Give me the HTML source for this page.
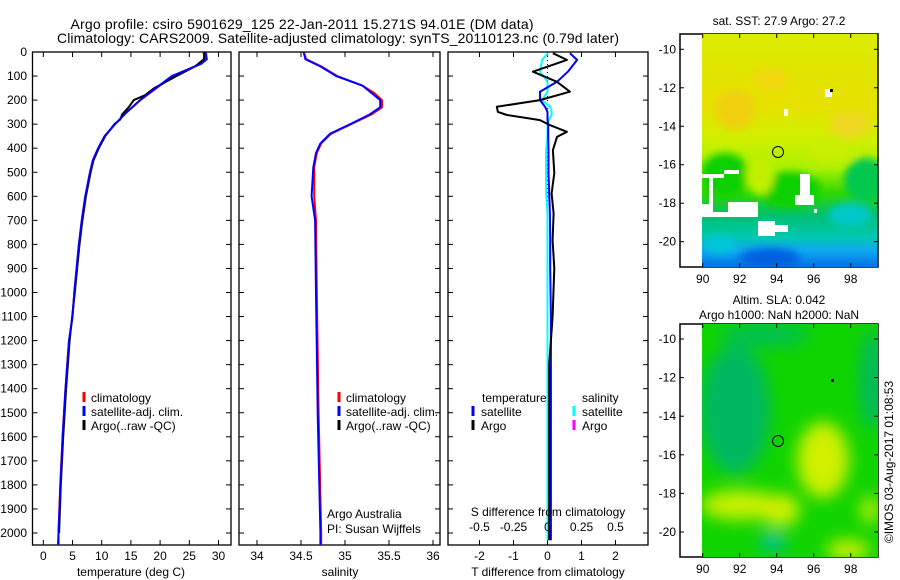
<!DOCTYPE html>
<html><head><meta charset="utf-8"><style>
html,body{margin:0;padding:0;background:#fff;}
svg{display:block;font-family:"Liberation Sans",sans-serif;}
text{fill:#000;}
</style></head><body>
<svg id="fig" width="900" height="580" viewBox="0 0 900 580">
<defs>
 <clipPath id="c1"><rect x="32.5" y="52" width="198.5" height="493"/></clipPath>
 <clipPath id="c2"><rect x="239" y="52" width="201" height="493"/></clipPath>
 <clipPath id="c3"><rect x="448" y="52" width="200" height="493"/></clipPath>
 <clipPath id="cm1"><rect x="702" y="34" width="175" height="233"/></clipPath>
 <clipPath id="cm2"><rect x="702" y="324" width="176" height="233"/></clipPath>
 <filter id="bl" x="-20%" y="-20%" width="140%" height="140%"><feGaussianBlur stdDeviation="4"/></filter>
 <filter id="bl2" x="-20%" y="-20%" width="140%" height="140%"><feGaussianBlur stdDeviation="8"/></filter>
 <linearGradient id="sst" x1="0" y1="0" x2="0" y2="1">
  <stop offset="0" stop-color="#d8ec00"/><stop offset="0.3" stop-color="#e8e000"/>
  <stop offset="0.45" stop-color="#d0f000"/><stop offset="0.58" stop-color="#a8f000"/>
  <stop offset="0.68" stop-color="#30d800"/><stop offset="0.78" stop-color="#00c070"/>
  <stop offset="0.87" stop-color="#00c8b0"/><stop offset="0.93" stop-color="#10a8f0"/>
  <stop offset="1" stop-color="#0070e8"/>
 </linearGradient>
</defs>
<text x="302" y="29" font-size="14" text-anchor="middle" textLength="463">Argo profile: csiro 5901629_125 22-Jan-2011 15.271S 94.01E (DM data)</text>
<text x="338" y="43" font-size="14" text-anchor="middle" textLength="562">Climatology: CARS2009. Satellite-adjusted climatology: synTS_20110123.nc (0.79d later)</text>
<g id="p1"></g>
<g id="p2"></g>
<g id="p3"></g>

<g>
 <rect x="680" y="34" width="198" height="233" fill="#fff" stroke="#000" stroke-width="1.5"/>
 <g clip-path="url(#cm1)">
  <rect x="702" y="34" width="175" height="233" fill="url(#sst)"/>
  <g filter="url(#bl)">
   <ellipse cx="725" cy="175" rx="25" ry="22" fill="#10d000"/>
   <ellipse cx="866" cy="180" rx="22" ry="22" fill="#00c850"/>
   <ellipse cx="735" cy="110" rx="20" ry="20" fill="#f0d010"/>
   <ellipse cx="770" cy="80" rx="18" ry="12" fill="#f0d810"/>
   <ellipse cx="850" cy="125" rx="20" ry="14" fill="#eed820"/>
   <ellipse cx="790" cy="190" rx="30" ry="18" fill="#10d000"/>
   <ellipse cx="760" cy="175" rx="14" ry="20" fill="#c0f000"/>
   <ellipse cx="830" cy="150" rx="25" ry="12" fill="#c8f000"/>
   <ellipse cx="850" cy="215" rx="22" ry="12" fill="#00c8c8"/>
   <ellipse cx="770" cy="258" rx="30" ry="10" fill="#0060e0"/>
   <ellipse cx="720" cy="245" rx="15" ry="8" fill="#00c8d8"/>
  </g>
  <g fill="#fff">
   <rect x="702" y="174" width="22" height="4"/><rect x="724" y="170" width="15" height="4"/>
   <rect x="709" y="178" width="4" height="39"/><rect x="702" y="204" width="7" height="13"/>
   <rect x="728" y="202" width="30" height="15"/><rect x="713" y="212" width="15" height="5"/>
   <rect x="758" y="221" width="17" height="15"/><rect x="758" y="225" width="30" height="7"/>
   <rect x="800" y="174" width="10" height="30"/><rect x="795" y="195" width="19" height="10"/>
   <rect x="814" y="209" width="3" height="4"/><rect x="784" y="109" width="4" height="7"/>
   <rect x="825" y="89" width="7" height="8"/>
  </g>
  <rect x="830" y="89" width="3" height="3" fill="#000"/>
 </g>
 <circle cx="778" cy="152" r="5.5" fill="none" stroke="#000"/>
</g>
<text x="779" y="25" font-size="12" text-anchor="middle">sat. SST: 27.9 Argo: 27.2</text>

<g>
 <rect x="680" y="324" width="198" height="233" fill="#fff" stroke="#000" stroke-width="1.5"/>
 <g clip-path="url(#cm2)">
  <rect x="702" y="324" width="176" height="233" fill="#10d400"/>
  <g filter="url(#bl2)">
   <ellipse cx="735" cy="410" rx="35" ry="65" fill="#00b860"/>
   <ellipse cx="765" cy="335" rx="45" ry="12" fill="#00c050"/>
   <ellipse cx="872" cy="380" rx="12" ry="50" fill="#00b860"/>
   <ellipse cx="823" cy="460" rx="26" ry="38" fill="#d0f000"/>
   <ellipse cx="740" cy="505" rx="40" ry="15" fill="#c8f000"/>
   <ellipse cx="780" cy="510" rx="20" ry="16" fill="#d0f000"/>
   <ellipse cx="773" cy="542" rx="14" ry="9" fill="#00c0a0"/>
   <ellipse cx="848" cy="550" rx="22" ry="10" fill="#d0f000"/>
   <ellipse cx="870" cy="510" rx="10" ry="14" fill="#b0ec00"/>
  </g>
  <rect x="831" y="379" width="3" height="3" fill="#000"/>
 </g>
 <circle cx="778" cy="441" r="5.5" fill="none" stroke="#000"/>
</g>
<text x="779" y="304" font-size="12" text-anchor="middle">Altim. SLA: 0.042</text>
<text x="779" y="319" font-size="12" text-anchor="middle">Argo h1000: NaN h2000: NaN</text>
<text transform="translate(893,462) rotate(-90)" font-size="12" text-anchor="middle">©IMOS 03-Aug-2017 01:08:53</text>
<g id="maxes"></g>

<script>
const depthTicks = [0,100,200,300,400,500,600,700,800,900,1000,1100,1200,1300,1400,1500,1600,1700,1800,1900,2000];
const tempTicks = [0,5,10,15,20,25,30];
const salTicks = [34,34.5,35,35.5,36];
const tdiffTicks = [-2,-1,0,1,2];
const sdiffTicks = [-0.5,-0.25,0,0.25,0.5];
const sdiffLabels = ["-0.5","-0.25","0","0.25","0.5"];
const lonTicks = [90,92,94,96,98];
const latTicks = [-10,-12,-14,-16,-18,-20];

const climDepth = [0,30,50,100,150,200,250,300,350,400,450,500,600,700,800,900,1000,1100,1200,1400,1600,1800,2000,2050];
const climTemp  = [27.4,27.7,26.8,22.2,19.4,16.6,14.3,12.3,10.5,9.4,8.5,8.0,7.2,6.6,6.1,5.7,5.3,5.0,4.4,3.8,3.3,2.9,2.6,2.5];
const satTemp   = [27.8,28.0,27.0,22.0,19.3,16.6,14.3,12.3,10.5,9.4,8.5,8.0,7.2,6.6,6.1,5.7,5.3,5.0,4.4,3.8,3.3,2.95,2.6,2.6];
const argoDepth = [0,30,60,100,150,180,200,230,260,280,300,350,400,450,500,600,700,800,1000,1200,1400,1600,1800,2000];
const argoTemp  = [27.6,27.5,26.0,22.8,19.0,17.4,15.5,14.6,13.5,13.2,12.2,10.6,9.5,8.6,8.1,7.3,6.7,6.2,5.4,4.5,3.9,3.4,3.0,2.7];

const salDepth = [0,30,60,100,140,170,200,230,260,300,340,380,420,480,600,700,1000,1500,2000,2050];
const climSal  = [34.53,34.56,34.73,34.91,35.2,35.33,35.42,35.42,35.3,35.07,34.84,34.73,34.68,34.65,34.65,34.67,34.68,34.7,34.73,34.73];
const satSal   = [34.53,34.55,34.72,34.9,35.2,35.3,35.4,35.4,35.28,35.06,34.83,34.72,34.67,34.64,34.62,34.66,34.67,34.69,34.72,34.72];

const dDepth = [5,33,82,124,165,200,228,249,262,283,304,332,353,408,504,588,671,783,900,1100,1300,1600,2000,2030];
const argoTdiff = [0.16,0.57,-0.43,0.28,0.66,-0.22,-1.49,-1.46,-1.19,-0.22,0.07,0.57,0.28,0.16,0.2,0.12,0.18,0.15,0.2,0.15,0.05,0.05,0.05,0.05];
const satTdiff  = [0.66,0.87,0.6,0.28,-0.22,-0.22,-0.07,0,0,0,0.02,0.02,0.02,0.03,0.03,0.05,0.07,0.08,0.08,0.1,0.1,0.1,0.1,0.1];
const satSdiff  = [0.004,-0.04,-0.055,0,0,-0.04,0.02,0.03,0.03,0.01,0,0,0,-0.01,-0.01,-0.01,0,0,0,0,0,0,0,0];

const NS = "http://www.w3.org/2000/svg";
const yD = d => 52 + d * 0.2405;
const xT = t => 43.3 + t * 5.84;
const xS = s => 257 + (s - 34) * 88;
const xTd = t => 547.5 + t * 34;
const xSd = s => 547.5 + s * 136;
const xLon = l => 702.7 + (l - 90) * 18.5;
const yLat1 = l => 49.3 + (-10 - l) * 19.24;
const yLat2 = l => 339 + (-10 - l) * 19.3;

function mk(tag, attrs, parent, txt) {
  const e = document.createElementNS(NS, tag);
  for (const k in attrs) e.setAttribute(k, attrs[k]);
  if (txt !== undefined) e.textContent = txt;
  parent.appendChild(e);
  return e;
}
function line(parent, xs, ys, color, w, name, dash) {
  let d = "";
  for (let i = 0; i < xs.length; i++) d += (i ? "L" : "M") + xs[i].toFixed(1) + " " + ys[i].toFixed(1);
  const p = mk("path", {d: d, fill: "none", stroke: color, "stroke-width": w, "stroke-linejoin": "round"}, parent);
  if (dash) p.setAttribute("stroke-dasharray", dash);
  
  
  return p;
}
function frame(g, x0, x1, withLabels) {
  mk("rect", {x: x0, y: 52, width: x1 - x0, height: 493, fill: "none", stroke: "#000", "stroke-width": 1.3}, g);
  depthTicks.forEach(d => {
    const y = yD(d);
    mk("line", {x1: x0, x2: x0 + 5, y1: y, y2: y, stroke: "#000"}, g);
    mk("line", {x1: x1, x2: x1 - 5, y1: y, y2: y, stroke: "#000"}, g);
    if (withLabels) {
      const t = mk("text", {x: 27, y: y + 4, "font-size": 12, "text-anchor": "end"}, g, String(d));
      
      
    }
  });
}
function xticks(g, ticks, fx, labels, ylab) {
  ticks.forEach((v, i) => {
    const x = fx(v);
    mk("line", {x1: x, x2: x, y1: 52, y2: 57, stroke: "#000"}, g);
    mk("line", {x1: x, x2: x, y1: 545, y2: 540, stroke: "#000"}, g);
    const t = mk("text", {x: x, y: ylab, "font-size": 12, "text-anchor": "middle"}, g, labels ? labels[i] : String(v));
    
    
  });
}
function legend(g, x, items) {
  items.forEach((it, i) => {
    const y = 402 + i * 14;
    mk("line", {x1: x, x2: x, y1: y - 10, y2: y, stroke: it[0], "stroke-width": 3}, g);
    const t = mk("text", {x: x + 7, y: y, "font-size": 12}, g, it[1]);
    
    
  });
}

const g1 = document.getElementById("p1");
frame(g1, 32.5, 231, true);
xticks(g1, tempTicks, xT, null, 560);
const c1 = mk("g", {"clip-path": "url(#c1)"}, g1);
line(c1, climTemp.map(xT), climDepth.map(yD), "#f00", 2, "temp-climatology-line");
line(c1, argoTemp.map(xT), argoDepth.map(yD), "#000", 2, "temp-argo-line");
line(c1, satTemp.map(xT), climDepth.map(yD), "#00f", 2, "temp-satellite-line");
legend(g1, 84, [["#f00","climatology"],["#00f","satellite-adj. clim."],["#000","Argo(..raw -QC)"]]);
mk("text", {x: 131, y: 576, "font-size": 12, "text-anchor": "middle"}, g1, "temperature (deg C)");

const g2 = document.getElementById("p2");
frame(g2, 239, 440, false);
xticks(g2, salTicks, xS, null, 560);
const c2 = mk("g", {"clip-path": "url(#c2)"}, g2);
line(c2, climSal.map(xS), salDepth.map(yD), "#f00", 2, "sal-climatology-line");
line(c2, satSal.map(xS), salDepth.map(yD), "#00f", 2, "sal-satellite-line");
legend(g2, 339, [["#f00","climatology"],["#00f","satellite-adj. clim."],["#000","Argo(..raw -QC)"]]);
mk("text", {x: 327, y: 518, "font-size": 12}, g2, "Argo Australia");
mk("text", {x: 327, y: 533, "font-size": 12}, g2, "PI: Susan Wijffels");
mk("text", {x: 340, y: 576, "font-size": 12, "text-anchor": "middle"}, g2, "salinity");

const g3 = document.getElementById("p3");
frame(g3, 448, 648, false);
xticks(g3, tdiffTicks, xTd, null, 560);
const c3 = mk("g", {"clip-path": "url(#c3)"}, g3);
line(c3, [xTd(0), xTd(0)], [yD(0), yD(2060)], "#000", 1, "zero-reference-line", "1 3");
line(c3, satSdiff.map(xSd), dDepth.map(yD), "#0ff", 2, "sdiff-satellite-line");
line(c3, satTdiff.map(xTd), dDepth.map(yD), "#00f", 2, "tdiff-satellite-line");
line(c3, argoTdiff.map(xTd), dDepth.map(yD), "#000", 2, "tdiff-argo-line");
sdiffTicks.forEach((v, i) => {
  const t = mk("text", {x: xSd(v), y: 531, "font-size": 12, "text-anchor": "middle"}, g3, sdiffLabels[i]);
  
  
});
mk("text", {x: 548, y: 516, "font-size": 12, "text-anchor": "middle"}, g3, "S difference from climatology");
mk("text", {x: 548, y: 576, "font-size": 12, "text-anchor": "middle"}, g3, "T difference from climatology");
mk("text", {x: 482, y: 402, "font-size": 12}, g3, "temperature");
mk("text", {x: 582, y: 402, "font-size": 12}, g3, "salinity");
[["#00f",473,"satellite",416],["#000",473,"Argo",430],["#0ff",574,"satellite",416],["#f0f",574,"Argo",430]].forEach(it => {
  mk("line", {x1: it[1], x2: it[1], y1: it[3] - 10, y2: it[3], stroke: it[0], "stroke-width": 3}, g3);
  const t = mk("text", {x: it[1] + 8, y: it[3], "font-size": 12}, g3, it[2]);
  
  
});

const ma = document.getElementById("maxes");
[[34, 267, yLat1], [324, 557, yLat2]].forEach(m => {
  lonTicks.forEach(l => {
    const x = xLon(l);
    mk("line", {x1: x, x2: x, y1: m[0], y2: m[0] + 4, stroke: "#000"}, ma);
    mk("line", {x1: x, x2: x, y1: m[1], y2: m[1] - 4, stroke: "#000"}, ma);
    const t = mk("text", {x: x, y: m[1] + 16, "font-size": 12, "text-anchor": "middle"}, ma, String(l));
    
    
  });
  latTicks.forEach(l => {
    const y = m[2](l);
    mk("line", {x1: 878, x2: 874, y1: y, y2: y, stroke: "#000"}, ma);
    mk("line", {x1: 680, x2: 684, y1: y, y2: y, stroke: "#000"}, ma);
    const t = mk("text", {x: 676, y: y + 4, "font-size": 12, "text-anchor": "end"}, ma, String(l));
    
    
  });
});
</script>
</svg>
</body></html>
